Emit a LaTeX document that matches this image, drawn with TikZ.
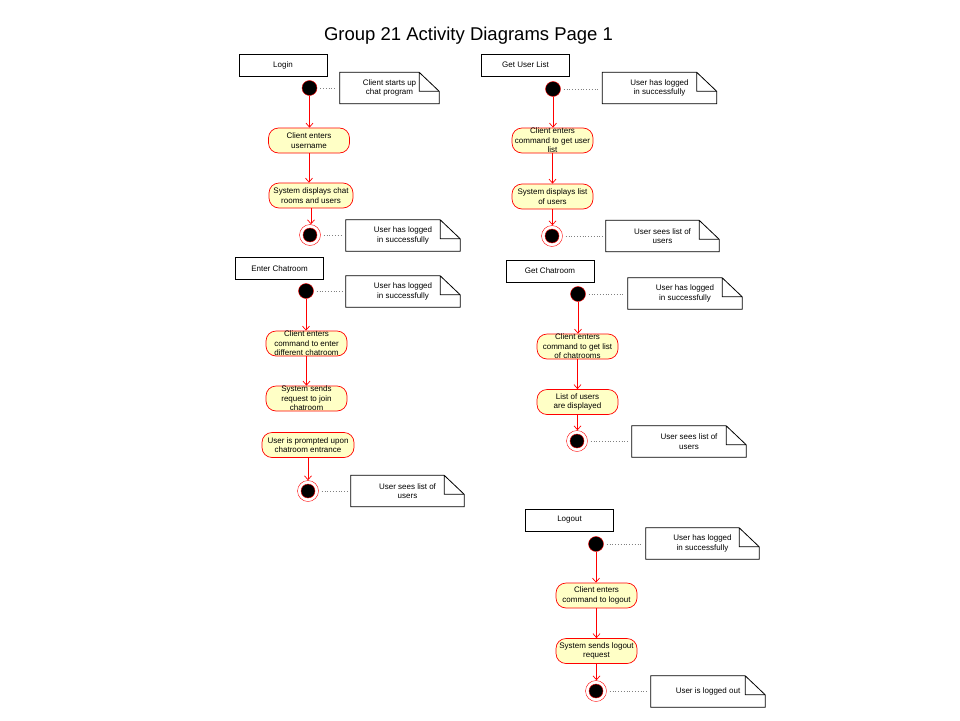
\documentclass[tikz,border=0pt]{standalone}
\usepackage{fontspec}
\setmainfont{Liberation Sans}
\usepackage{xcolor}
\usetikzlibrary{arrows.meta}
\definecolor{actfill}{HTML}{FFFFC6}

\begin{document}
\begin{tikzpicture}[x=1pt, y=-1pt, font=\fontsize{8}{9.5}\selectfont,
  lbl/.style={draw, line width=0.8pt, minimum width=88pt, minimum height=22pt, inner sep=0pt},
  act/.style={draw=red, line width=0.7pt, fill=actfill, rounded corners=10pt, minimum width=81pt, minimum height=25pt, inner sep=0pt, align=center},
  start/.style={circle, draw=red, fill=black, minimum size=15pt, inner sep=0pt},
  stop/.style={circle, draw=red, fill=white, minimum size=21pt, inner sep=0pt,
    path picture={\draw[red, fill=black] (path picture bounding box.center) circle (7pt);}},
  note/.style={minimum width=114pt, minimum height=31pt, inner sep=0pt, align=center},
  flow/.style={red, line width=0.7pt, -{Straight Barb[length=4pt, width=7pt]}},
  link/.style={gray, dotted, line width=0.8pt, shorten <=3pt, shorten >=3pt}]
\fill[white] (0,0) rectangle (960,720);
\useasboundingbox (0,0) rectangle (960,720);

\node[font=\fontsize{18.5}{22}\selectfont, anchor=base] (title) at (468.5,40) {Group 21 Activity Diagrams Page 1};

% Login
\node[lbl] (lbl1) at (283,65) {Login};
\node[start] (s1) at (309.5,88) {};
\node[note, minimum width=99pt] (n1) at (389.5,88) {Client starts up\\chat program};
\node[act] (a11) at (309,140.5) {Client enters\\username};
\node[act, minimum width=84pt] (a12) at (311,195.5) {System displays chat\\rooms and users};
\node[stop] (e1) at (310,235) {};
\node[note] (n2) at (403,235.5) {User has logged\\in successfully};

% Get User List
\node[lbl] (lbl2) at (525.5,65) {Get User List};
\node[start] (s2) at (553,89) {};
\node[note] (n3) at (659.5,88) {User has logged\\in successfully};
\node[act] (a21) at (552.5,140.5) {Client enters\\command to get user\\list};
\node[act] (a22) at (552.5,196.5) {System displays list\\of users};
\node[stop] (e2) at (552,236) {};
\node[note, minimum width=113pt] (n4) at (662.5,236) {User sees list of\\users};

% Enter Chatroom
\node[lbl] (lbl3) at (279.5,268.5) {Enter Chatroom};
\node[start] (s3) at (306,291) {};
\node[note] (n5) at (403,291.5) {User has logged\\in successfully};
\node[act] (a31) at (306.5,343.5) {Client enters\\command to enter\\different chatroom};
\node[act] (a32) at (306.5,398.5) {System sends\\request to join\\chatroom};
\node[act, minimum width=92pt] (a33) at (308,445) {User is prompted upon\\chatroom entrance};
\node[stop] (e3) at (308,491) {};
\node[note, minimum width=113pt] (n6) at (407.5,491) {User sees list of\\users};

% Get Chatroom
\node[lbl] (lbl4) at (550,271) {Get Chatroom};
\node[start] (s4) at (578,294) {};
\node[note] (n7) at (685,293.5) {User has logged\\in successfully};
\node[act] (a41) at (577.5,346.5) {Client enters\\command to get list\\of chatrooms};
\node[act] (a42) at (577.5,402) {List of users\\are displayed};
\node[stop] (e4) at (577,441) {};
\node[note] (n8) at (689,441.5) {User sees list of\\users};

% Logout
\node[lbl] (lbl5) at (569.5,520) {Logout};
\node[start] (s5) at (596,544) {};
\node[note, minimum width=113pt] (n9) at (702.5,543.5) {User has logged\\in successfully};
\node[act] (a51) at (596.5,595.5) {Client enters\\command to logout};
\node[act] (a52) at (596.5,651) {System sends logout\\request};
\node[stop] (e5) at (596,691) {};
\node[note] (n10) at (708,691.5) {User is logged out};

% note outlines with folded corner
\foreach \n in {n1,n2,n3,n4,n5,n6,n7,n8,n9,n10}
  \draw[line width=0.8pt] (\n.north west) -- ([xshift=-20pt]\n.north east) -- ([yshift=-19pt]\n.north east)
    -- (\n.south east) -- (\n.south west) -- cycle
    ([xshift=-20pt]\n.north east) |- ([yshift=-19pt]\n.north east);

% dotted links to notes
\foreach \a/\b in {s1/n1, e1/n2, s2/n3, e2/n4, s3/n5, e3/n6, s4/n7, e4/n8, s5/n9, e5/n10}
  \draw[link] (\a) -- (\a -| \b.west);

% control flow
\foreach \a/\b in {s1/a11, a11/a12, a12/e1, s2/a21, a21/a22, a22/e2, s3/a31, a31/a32, a33/e3,
    s4/a41, a41/a42, a42/e4, s5/a51, a51/a52, a52/e5}
  \draw[flow] (\a) -- (\a |- \b.north);
\end{tikzpicture}
\end{document}
